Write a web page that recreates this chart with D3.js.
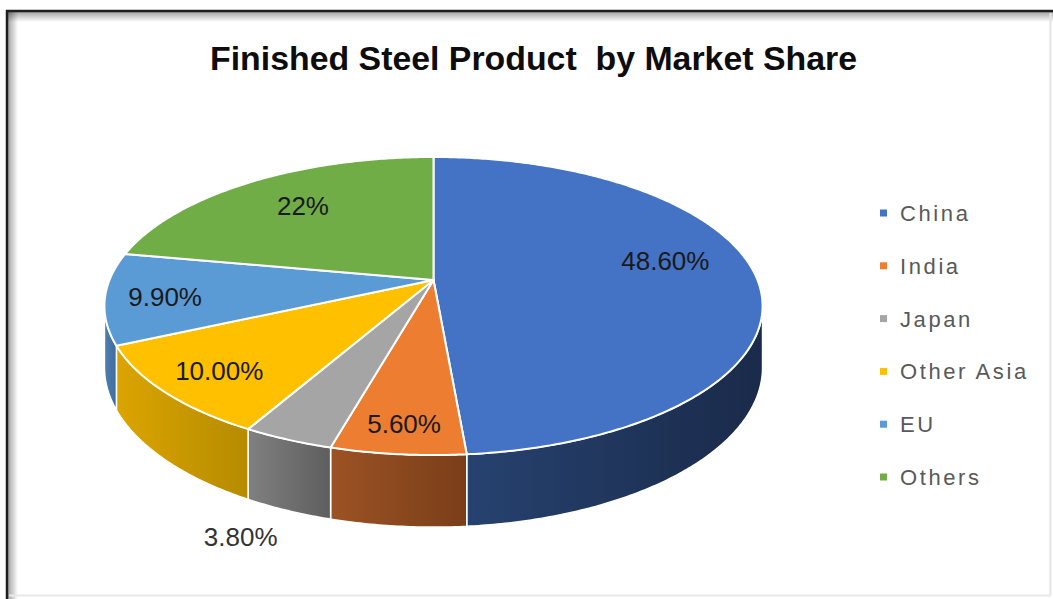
<!DOCTYPE html>
<html>
<head>
<meta charset="utf-8">
<script src="https://cdn.jsdelivr.net/npm/d3@7"></script>
<style>
  html, body { margin: 0; padding: 0; background: #ffffff; }
  svg { display: block; }
  text { font-family: "Liberation Sans", Arial, sans-serif; }
</style>
</head>
<body>
<svg id="chart" width="1053" height="599"></svg>
<script>
// Market share of finished steel products (%)
const categories = ["China", "India", "Japan", "Other Asia", "EU", "Others"];
const shares     = [48.6, 5.6, 3.8, 10.0, 9.9, 22];
const labels     = ["48.60%", "5.60%", "3.80%", "10.00%", "9.90%", "22%"];
const title      = "Finished Steel Product  by Market Share";

// Colours: top faces and wall gradients (light -> dark)
const topColors  = ["#4472c4", "#ed7d31", "#a5a5a5", "#ffc000", "#5b9bd5", "#70ad47"];
const wallLight  = ["#26426f", "#9c5224", "#808080", "#dba500", "#4d80b2", "#5a8c39"];
const wallDark   = ["#1a2a4a", "#7a3e19", "#5e5e5e", "#b68b00", "#3e6c9c", "#486f2e"];

const W = 1053, H = 599;
const svg = d3.select("#chart");
const defs = svg.append("defs");

// ---------- frame with inner shadow on top/left ----------
const shadeTop = defs.append("linearGradient").attr("id", "shadeTop")
  .attr("x1", 0).attr("y1", 0).attr("x2", 0).attr("y2", 1);
shadeTop.append("stop").attr("offset", 0).attr("stop-color", "#000").attr("stop-opacity", 0.35);
shadeTop.append("stop").attr("offset", 1).attr("stop-color", "#000").attr("stop-opacity", 0);
const shadeLeft = defs.append("linearGradient").attr("id", "shadeLeft")
  .attr("x1", 0).attr("y1", 0).attr("x2", 1).attr("y2", 0);
shadeLeft.append("stop").attr("offset", 0).attr("stop-color", "#000").attr("stop-opacity", 0.35);
shadeLeft.append("stop").attr("offset", 1).attr("stop-color", "#000").attr("stop-opacity", 0);

const frame = svg.append("g");
frame.append("rect").attr("x", 8).attr("y", 12).attr("width", W - 8).attr("height", 10)
  .attr("fill", "url(#shadeTop)");
frame.append("rect").attr("x", 8).attr("y", 12).attr("width", 10).attr("height", H - 12)
  .attr("fill", "url(#shadeLeft)");
frame.append("line").attr("x1", 6).attr("x2", W).attr("y1", 11).attr("y2", 11)
  .attr("stroke", "#1e1e1e").attr("stroke-width", 2.5);
frame.append("line").attr("x1", 7).attr("x2", 7).attr("y1", 10).attr("y2", H)
  .attr("stroke", "#1e1e1e").attr("stroke-width", 2.5);
frame.append("line").attr("x1", 1050.5).attr("x2", 1050.5).attr("y1", 13).attr("y2", 595)
  .attr("stroke", "#e4e4e4").attr("stroke-width", 2);
frame.append("line").attr("x1", 9).attr("x2", 1051).attr("y1", 595.5).attr("y2", 595.5)
  .attr("stroke", "#e8e8e8").attr("stroke-width", 2);

// ---------- title ----------
svg.append("text")
  .attr("x", 533.5).attr("y", 70)
  .attr("text-anchor", "middle")
  .attr("font-size", 33).attr("font-weight", "bold")
  .attr("fill", "#0d0d0d")
  .attr("textLength", 647).attr("lengthAdjust", "spacingAndGlyphs")
  .style("white-space", "pre")
  .text(title);

// ---------- perspective projection of the pie disc ----------
const cx = 433.5, cy = 280;   // vertex of the slices
const sx = 324, sy = 144.5;   // horizontal / vertical scale of the disc
const persp = 0.1745;         // foreshortening of the far half
const depth = 59.5;           // wall thickness

function project(theta, r, z) {
  const u = r * Math.sin(theta), v = r * Math.cos(theta);
  const w = 1 + persp * v;
  return [cx + sx * u / w, cy - sy * v / w + depth * z / w];
}

const pie = d3.pie().sort(null).value(d => d).startAngle(0).endAngle(2 * Math.PI);
const arcs = pie(shares);
const line = d3.line();

function rimPoints(a0, a1, z) {
  const n = Math.max(2, Math.ceil((a1 - a0) / 0.01));
  return d3.range(n + 1).map(i => project(a0 + (a1 - a0) * i / n, 1, z));
}

// wall visibility range: the side faces the viewer between the silhouettes
const visA = Math.acos(-persp), visB = 2 * Math.PI - visA;

const walls = svg.append("g");
arcs.forEach((a, i) => {
  const a0 = Math.max(a.startAngle, visA), a1 = Math.min(a.endAngle, visB);
  if (a1 <= a0) return;
  const g = defs.append("linearGradient").attr("id", "wall" + i)
    .attr("x1", 0).attr("y1", 0).attr("x2", 1).attr("y2", 0);
  g.append("stop").attr("offset", 0).attr("stop-color", wallLight[i]);
  g.append("stop").attr("offset", 1).attr("stop-color", wallDark[i]);
  const pts = rimPoints(a0, a1, 0).concat(rimPoints(a0, a1, 1).reverse());
  walls.append("path")
    .attr("d", line(pts) + "Z")
    .attr("fill", `url(#wall${i})`)
    .attr("stroke", "#ffffff").attr("stroke-width", 1.5)
    .attr("stroke-linejoin", "round");
});

const tops = svg.append("g");
arcs.forEach((a, i) => {
  const pts = [project(0, 0, 0)].concat(rimPoints(a.startAngle, a.endAngle, 0));
  tops.append("path")
    .attr("d", line(pts) + "Z")
    .attr("fill", topColors[i])
    .attr("stroke", "#ffffff").attr("stroke-width", 2)
    .attr("stroke-linejoin", "round");
});

// ---------- data labels ----------
// radial placement of each label on the top face; Japan sits outside below the wall
const labelPlace = [
  { r: 0.72, dy: -15 },
  { r: 0.85, dy: 0 },
  { outside: true, dx: -47, dy: 26 },
  { r: 0.816, dy: 2 },
  { r: 0.82, dy: 2 },
  { r: 0.69, dy: -4 }
];
const labelG = svg.append("g");
arcs.forEach((a, i) => {
  const mid = (a.startAngle + a.endAngle) / 2;
  const p = labelPlace[i];
  let pos;
  if (p.outside) {
    const b = project(mid, 1, 1);
    pos = [b[0] + p.dx, b[1] + p.dy];
  } else {
    const b = project(mid, p.r, 0);
    pos = [b[0], b[1] + p.dy];
  }
  labelG.append("text")
    .attr("x", pos[0]).attr("y", pos[1])
    .attr("dy", "0.36em")
    .attr("text-anchor", "middle")
    .attr("font-size", 26)
    .attr("fill", p.outside ? "#333333" : "#1a1a1a")
    .text(labels[i]);
});

// ---------- legend ----------
const legendY = d3.scalePoint().domain(categories).range([213, 477]);
const legend = svg.append("g");
categories.forEach((c, i) => {
  const y = legendY(c);
  legend.append("rect")
    .attr("x", 880).attr("y", y - 3.5).attr("width", 7).attr("height", 7)
    .attr("fill", topColors[i]);
  legend.append("text")
    .attr("x", 900).attr("y", y + 8)
    .attr("font-size", 22)
    .attr("letter-spacing", 2.6)
    .attr("fill", "#595959")
    .text(c);
});
</script>
</body>
</html>
